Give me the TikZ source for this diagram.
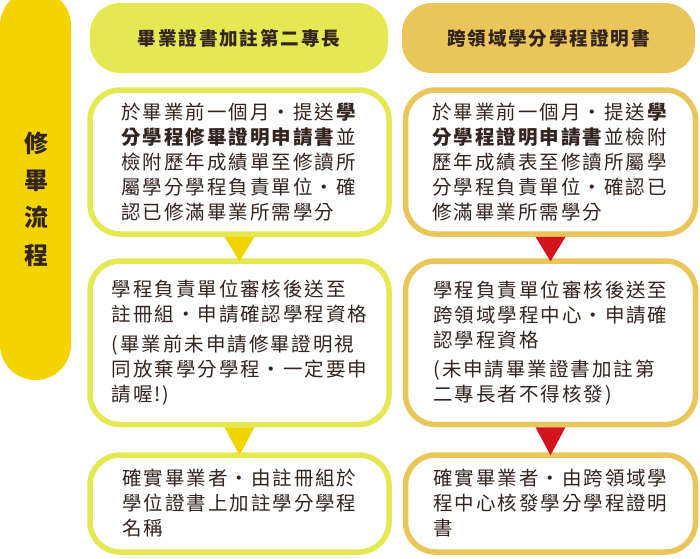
\documentclass[tikz,border=0pt]{standalone}
\usepackage{fontspec}
\setmainfont{Noto Sans CJK TC}[LetterSpace=10]
\usepackage{xcolor}
\usepackage{tikz}

\definecolor{barYellow}{RGB}{243,211,0}
\definecolor{limeYellow}{RGB}{228,232,82}
\definecolor{goldYellow}{RGB}{233,197,90}
\definecolor{flowRed}{RGB}{211,20,28}
\definecolor{inkBrown}{RGB}{52,36,30}

\tikzset{
	stepbox/.style={draw, line width=5.5pt, rounded corners=30pt, fill=white,
		inner sep=0pt, align=left, text=inkBrown,
		font=\fontsize{19.5}{25}\selectfont},
	headbox/.style={rounded corners=30pt, inner sep=0pt, text=inkBrown,
		font=\fontsize{18.6}{22}\selectfont\bfseries}
}

\begin{document}
\begin{tikzpicture}[x=1pt,y=-1pt]
	\useasboundingbox (0,0) rectangle (700,558);
	% side bar
	\fill[barYellow, rounded corners=35.5pt] (0,-10) rectangle (71,380);
	\node[align=center, text=inkBrown, font=\fontsize{24}{37.3}\selectfont\bfseries] (S) at (36,199) {修\\畢\\流\\程};
	% headers
	\node[headbox, fill=limeYellow, minimum width=298pt, minimum height=70pt] (LH) at (239,38) {畢業證書加註第二專長};
	\node[headbox, fill=goldYellow, minimum width=293pt, minimum height=70pt] (RH) at (548.5,38) {跨領域學分學程證明書};
	% nodes
	\node[stepbox, draw=limeYellow, minimum width=299pt, minimum height=144pt] (L) at (239.5,162)
		{於畢業前一個月・提送\textbf{學}\\\textbf{分學程修畢證明申請書}並\\檢附歷年成績單至修讀所\\屬學分學程負責單位・確\\認已修滿畢業所需學分};
	\node[stepbox, draw=limeYellow, minimum width=299pt, minimum height=163.5pt] (L') at (239.5,342.75)
		{學程負責單位審核後送至\\註冊組・申請確認學程資格\\[5pt](畢業前未申請修畢證明視\\同放棄學分學程・一定要申\\請喔!)};
	\node[stepbox, draw=limeYellow, minimum width=299pt, minimum height=97pt] (L'') at (239.5,503.5)
		{確實畢業者・由註冊組於\\學位證書上加註學分學程\\名稱};
	\node[stepbox, draw=goldYellow, minimum width=290pt, minimum height=144pt] (R) at (550.5,162)
		{於畢業前一個月・提送\textbf{學}\\\textbf{分學程證明申請書}並檢附\\歷年成績表至修讀所屬學\\分學程負責單位・確認已\\修滿畢業所需學分};
	\node[stepbox, draw=goldYellow, minimum width=290pt, minimum height=163.5pt] (R') at (550.5,342.75)
		{學程負責單位審核後送至\\跨領域學程中心・申請確\\認學程資格\\[4pt](未申請畢業證書加註第\\二專長者不得核發)};
	\node[stepbox, draw=goldYellow, minimum width=290pt, minimum height=97pt] (R'') at (550.5,503.5)
		{確實畢業者・由跨領域學\\程中心核發學分學程證明\\書};
	% triangles
	\fill[barYellow] ([xshift=-15pt]L.south) -- ([xshift=15pt]L.south) -- ([yshift=-3pt]L'.north) -- cycle;
	\fill[barYellow] ([xshift=-15pt]L'.south) -- ([xshift=15pt]L'.south) -- ([yshift=-3pt]L''.north) -- cycle;
	\fill[flowRed] ([xshift=-15pt]R.south) -- ([xshift=15pt]R.south) -- ([yshift=-3pt]R'.north) -- cycle;
	\fill[flowRed] ([xshift=-15pt]R'.south) -- ([xshift=15pt]R'.south) -- ([yshift=-3pt]R''.north) -- cycle;
\end{tikzpicture}
\end{document}
